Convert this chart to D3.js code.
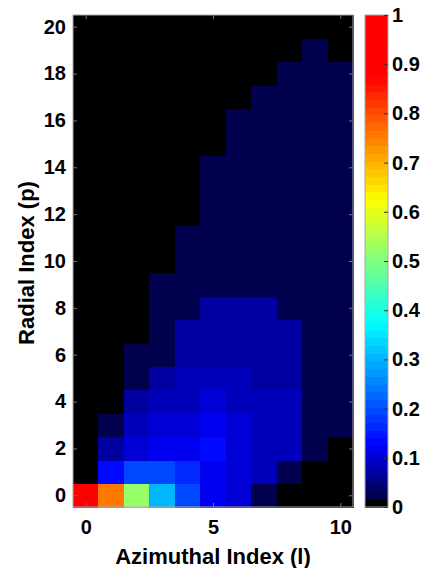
<!DOCTYPE html>
<html>
<head>
<meta charset="utf-8">
<script src="https://cdn.jsdelivr.net/npm/d3@7/dist/d3.min.js"></script>
<style>
  body { margin: 0; background: #fff; }
  text { font-family: "Liberation Sans", Arial, sans-serif; font-weight: bold; fill: #000; }
</style>
</head>
<body>
<svg id="canvas" width="424" height="568"></svg>
<script>
// ---------------------------------------------------------------- //
// Data

var azimuthal = [0, 1, 2, 3, 4, 5, 6, 7, 8, 9, 10];
var radial = [0, 1, 2, 3, 4, 5, 6, 7, 8, 9, 10, 11, 12, 13, 14, 15, 16, 17, 18, 19, 20];

// one row per radial index p (p = 0 first), one value per azimuthal index l
var intensity = [
  [1.00, 0.76, 0.52, 0.30, 0.19, 0.12, 0.105, 0.025, 0, 0, 0],
  [0, 0.135, 0.19, 0.19, 0.165, 0.12, 0.105, 0.09, 0.025, 0, 0],
  [0, 0.075, 0.105, 0.118, 0.118, 0.125, 0.105, 0.09, 0.088, 0.025, 0],
  [0, 0.025, 0.09, 0.105, 0.105, 0.112, 0.105, 0.09, 0.085, 0.025, 0.025],
  [0, 0, 0.075, 0.088, 0.09, 0.10, 0.092, 0.088, 0.08, 0.025, 0.025],
  [0, 0, 0.025, 0.075, 0.088, 0.088, 0.088, 0.075, 0.075, 0.025, 0.025],
  [0, 0, 0.025, 0.025, 0.075, 0.075, 0.075, 0.075, 0.075, 0.025, 0.025],
  [0, 0, 0, 0.025, 0.075, 0.075, 0.075, 0.075, 0.075, 0.025, 0.025],
  [0, 0, 0, 0.025, 0.025, 0.075, 0.075, 0.075, 0.025, 0.025, 0.025],
  [0, 0, 0, 0.025, 0.025, 0.025, 0.025, 0.025, 0.025, 0.025, 0.025],
  [0, 0, 0, 0, 0.025, 0.025, 0.025, 0.025, 0.025, 0.025, 0.025],
  [0, 0, 0, 0, 0.025, 0.025, 0.025, 0.025, 0.025, 0.025, 0.025],
  [0, 0, 0, 0, 0, 0.025, 0.025, 0.025, 0.025, 0.025, 0.025],
  [0, 0, 0, 0, 0, 0.025, 0.025, 0.025, 0.025, 0.025, 0.025],
  [0, 0, 0, 0, 0, 0.025, 0.025, 0.025, 0.025, 0.025, 0.025],
  [0, 0, 0, 0, 0, 0, 0.025, 0.025, 0.025, 0.025, 0.025],
  [0, 0, 0, 0, 0, 0, 0.025, 0.025, 0.025, 0.025, 0.025],
  [0, 0, 0, 0, 0, 0, 0, 0.025, 0.025, 0.025, 0.025],
  [0, 0, 0, 0, 0, 0, 0, 0, 0.025, 0.025, 0.025],
  [0, 0, 0, 0, 0, 0, 0, 0, 0, 0.025, 0],
  [0, 0, 0, 0, 0, 0, 0, 0, 0, 0, 0]
];

var xTicks = [0, 5, 10];
var yTicks = [0, 2, 4, 6, 8, 10, 12, 14, 16, 18, 20];
var cbTicks = [0, 0.1, 0.2, 0.3, 0.4, 0.5, 0.6, 0.7, 0.8, 0.9, 1];
var cbLabels = ['0', '0.1', '0.2', '0.3', '0.4', '0.5', '0.6', '0.7', '0.8', '0.9', '1'];

var xTitle = 'Azimuthal Index (l)';
var yTitle = 'Radial Index (p)';

// ---------------------------------------------------------------- //
// Layout

var plot = { left: 73, right: 353, top: 15, bottom: 507 };
var cbar = { left: 365, right: 388 };
var nLevels = 64;

var svg = d3.select('#canvas');

var xScale = d3.scaleLinear().domain([-0.5, 10.5]).range([plot.left, plot.right]);
var yScale = d3.scaleLinear().domain([-0.5, 20.5]).range([plot.bottom, plot.top]);
var cScale = d3.scaleLinear().domain([0, 1]).range([plot.bottom, plot.top]);

// jet-like map, first level black
var jet = d3.scaleLinear()
  .domain([1/64, 0.125, 0.375, 0.625, 0.875, 1])
  .range(['#000040', '#0000ff', '#00ffff', '#ffff00', '#ff0000', '#ff0000'])
  .interpolate(d3.interpolateRgb)
  .clamp(true);

function levelColour(idx){
  if(idx <= 0) return '#000';
  return jet((idx + 0.5) / nLevels);
}
function valueColour(v){
  return levelColour(Math.min(nLevels - 1, Math.floor(v * nLevels)));
}

// ---------------------------------------------------------------- //
// Cells

var cells = [];
radial.forEach(function(p, i){
  azimuthal.forEach(function(l, j){ cells.push({ l: l, p: p, v: intensity[i][j] }); });
});

svg.append('g').selectAll('rect').data(cells).join('rect')
  .attr('x', d => xScale(d.l - 0.5))
  .attr('y', d => yScale(d.p + 0.5))
  .attr('width', d => xScale(d.l + 0.5) - xScale(d.l - 0.5) + 0.5)
  .attr('height', d => yScale(d.p - 0.5) - yScale(d.p + 0.5) + 0.5)
  .attr('fill', d => valueColour(d.v))
  .attr('shape-rendering', 'crispEdges');

svg.append('rect')
  .attr('x', plot.left).attr('y', plot.top)
  .attr('width', plot.right - plot.left).attr('height', plot.bottom - plot.top)
  .attr('fill', 'none').attr('stroke', '#a8a8a8').attr('stroke-width', 1);

// ---------------------------------------------------------------- //
// Axes

function styleAxis(g, size, tickColour){
  g.select('.domain').remove();
  g.selectAll('.tick line').attr('stroke', tickColour);
  g.selectAll('.tick text').attr('font-size', size).attr('fill', '#000')
    .style('font-family', '"Liberation Sans", Arial, sans-serif').style('font-weight', 'bold');
}

var yAxisL = svg.append('g').attr('transform', 'translate(' + plot.left + ',0)')
  .call(d3.axisLeft(yScale).tickValues(yTicks).tickSize(-4).tickPadding(7));
styleAxis(yAxisL, 20, '#777');

var yAxisR = svg.append('g').attr('transform', 'translate(' + plot.right + ',0)')
  .call(d3.axisRight(yScale).tickValues(yTicks).tickSize(-4).tickFormat(''));
styleAxis(yAxisR, 20, '#777');

var xAxisB = svg.append('g').attr('transform', 'translate(0,' + plot.bottom + ')')
  .call(d3.axisBottom(xScale).tickValues(xTicks).tickSize(-4).tickPadding(13));
styleAxis(xAxisB, 20, '#777');

var xAxisT = svg.append('g').attr('transform', 'translate(0,' + plot.top + ')')
  .call(d3.axisTop(xScale).tickValues(xTicks).tickSize(-4).tickFormat(''));
styleAxis(xAxisT, 20, '#777');

svg.append('text')
  .attr('x', (plot.left + plot.right) / 2).attr('y', 564)
  .attr('text-anchor', 'middle').attr('font-size', 22)
  .text(xTitle);

svg.append('text')
  .attr('transform', 'translate(34,263) rotate(-90)')
  .attr('text-anchor', 'middle').attr('font-size', 22)
  .text(yTitle);

// ---------------------------------------------------------------- //
// Colour bar

var levels = d3.range(nLevels);
svg.append('g').selectAll('rect').data(levels).join('rect')
  .attr('x', cbar.left)
  .attr('y', d => cScale((d + 1) / nLevels))
  .attr('width', cbar.right - cbar.left)
  .attr('height', d => cScale(d / nLevels) - cScale((d + 1) / nLevels) + 0.5)
  .attr('fill', d => levelColour(d))
  .attr('shape-rendering', 'crispEdges');

svg.append('rect')
  .attr('x', cbar.left).attr('y', plot.top)
  .attr('width', cbar.right - cbar.left).attr('height', plot.bottom - plot.top)
  .attr('fill', 'none').attr('stroke', '#a8a8a8').attr('stroke-width', 1);

var cAxis = svg.append('g').attr('transform', 'translate(' + cbar.right + ',0)')
  .call(d3.axisRight(cScale).tickValues(cbTicks).tickSize(-4).tickPadding(4)
    .tickFormat((d, i) => cbLabels[i]));
styleAxis(cAxis, 20, '#333');
</script>
</body>
</html>
